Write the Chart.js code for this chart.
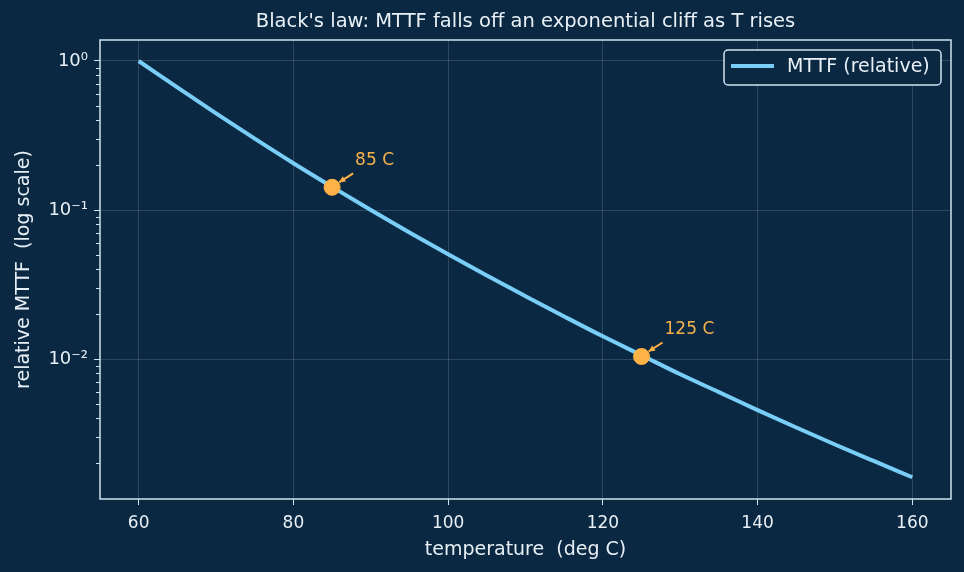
<!DOCTYPE html>
<html>
<head>
<meta charset="utf-8">
<title>Black's law</title>
<script src="https://cdn.jsdelivr.net/npm/chart.js@4.4.1/dist/chart.umd.min.js"></script>
<style>
  html, body { margin: 0; padding: 0; background: #0b2842; }
  #wrap { width: 964px; height: 572px; }
</style>
</head>
<body>
<div id="wrap"><canvas id="chart" width="964" height="572"></canvas></div>
<script>
// values
const temps = [60, 65, 70, 75, 80, 85, 90, 95, 100, 105, 110, 115, 120, 125, 130, 135, 140, 145, 150, 155, 160];
const mttf = [1.0, 0.665, 0.445, 0.301, 0.206, 0.143, 0.100, 0.0707, 0.0505, 0.0363, 0.0264, 0.0193, 0.0142, 0.0106, 0.0079, 0.0060, 0.00454, 0.00347, 0.00267, 0.00207, 0.00161];

const markTemps = [85, 125];
const markValues = [0.142, 0.0104];
const markLabels = ['85 C', '125 C'];

const xTicks = [60, 80, 100, 120, 140, 160];
const yTicks = [1, 0.1, 0.01];
const yTickLabels = ['10⁰', '10⁻¹', '10⁻²'];

const BG = '#0b2842';
const FG = '#e8f0f6';
const FRAME = '#cfe3f1';
const LINE = '#79cef8';
const ORANGE = '#ffb347';
const FONT = "'DejaVu Sans', sans-serif";

const decor = {
    id: 'decor',
    beforeDraw(chart) {
        const ctx = chart.ctx;
        ctx.save();
        ctx.fillStyle = BG;
        ctx.fillRect(0, 0, chart.width, chart.height);
        ctx.restore();
    },
    afterDraw(chart) {
        const { ctx, chartArea: a, scales } = chart;
        const x = scales.x, y = scales.y;
        ctx.save();

        // frame around the plot
        ctx.strokeStyle = FRAME;
        ctx.lineWidth = 1.5;
        ctx.strokeRect(a.left, a.top, a.right - a.left, a.bottom - a.top);

        // minor log ticks on the y axis
        ctx.lineWidth = 1;
        for (let d = -3; d <= 0; d++) {
            for (let m = 2; m <= 9; m++) {
                const v = m * Math.pow(10, d);
                if (v < y.min || v > y.max) continue;
                const py = Math.round(y.getPixelForValue(v)) + 0.5;
                ctx.beginPath();
                ctx.moveTo(a.left - 4, py);
                ctx.lineTo(a.left, py);
                ctx.stroke();
            }
        }

        // annotations with little arrows
        ctx.font = '17px ' + FONT;
        ctx.textBaseline = 'middle';
        ctx.textAlign = 'left';
        markTemps.forEach((t, i) => {
            const px = x.getPixelForValue(t);
            const py = y.getPixelForValue(markValues[i]);
            const sx = px + 21, sy = py - 14;
            const ex = px + 7, ey = py - 5;
            ctx.strokeStyle = ORANGE;
            ctx.fillStyle = ORANGE;
            ctx.lineWidth = 2;
            ctx.beginPath();
            ctx.moveTo(sx, sy);
            ctx.lineTo(ex, ey);
            ctx.stroke();
            const ang = Math.atan2(ey - sy, ex - sx);
            ctx.beginPath();
            ctx.moveTo(ex, ey);
            ctx.lineTo(ex - 7 * Math.cos(ang - 0.45), ey - 7 * Math.sin(ang - 0.45));
            ctx.lineTo(ex - 7 * Math.cos(ang + 0.45), ey - 7 * Math.sin(ang + 0.45));
            ctx.closePath();
            ctx.fill();
            ctx.fillStyle = '#f5b24a';
            ctx.fillText(markLabels[i], px + 23, py - 27);
        });

        // legend box, top right inside the plot
        const lw = 217, lh = 35;
        const lx = a.right - 10 - lw, ly = a.top + 10;
        ctx.fillStyle = BG;
        ctx.strokeStyle = FRAME;
        ctx.lineWidth = 1.5;
        ctx.beginPath();
        ctx.roundRect(lx, ly, lw, lh, 4);
        ctx.fill();
        ctx.stroke();
        ctx.strokeStyle = LINE;
        ctx.lineWidth = 4;
        ctx.beginPath();
        ctx.moveTo(lx + 7, ly + 16);
        ctx.lineTo(lx + 50, ly + 16);
        ctx.stroke();
        ctx.fillStyle = FG;
        ctx.font = '19px ' + FONT;
        ctx.fillText(chart.data.datasets[0].label, lx + 63, ly + 17);

        ctx.restore();
    }
};

new Chart(document.getElementById('chart'), {
    type: 'line',
    data: {
        datasets: [{
            label: 'MTTF (relative)',
            data: temps.map((t, i) => ({ x: t, y: mttf[i] })),
            borderColor: LINE,
            borderWidth: 4,
            pointRadius: 0,
            cubicInterpolationMode: 'monotone',
            order: 2
        }, {
            type: 'scatter',
            label: 'markers',
            data: markTemps.map((t, i) => ({ x: t, y: markValues[i] })),
            backgroundColor: ORANGE,
            borderColor: ORANGE,
            pointRadius: 8,
            order: 1
        }]
    },
    options: {
        responsive: false,
        animation: false,
        layout: { padding: { top: 0, right: 13, bottom: 0, left: 0 } },
        plugins: {
            legend: { display: false },
            tooltip: { enabled: false },
            title: {
                display: true,
                fullSize: false,
                text: "Black's law: MTTF falls off an exponential cliff as T rises",
                color: FG,
                font: { family: FONT, size: 19.5, weight: 'normal' },
                padding: { top: 10.5, bottom: 6.1 }
            }
        },
        scales: {
            x: {
                type: 'linear',
                min: 55,
                max: 165,
                afterBuildTicks: s => { s.ticks = xTicks.map(v => ({ value: v })); },
                afterFit: s => { s.height = 73; },
                grid: { color: 'rgba(255,255,255,0.14)', lineWidth: 1, tickColor: FRAME, tickLength: 6 },
                border: { display: false },
                ticks: { color: FG, font: { family: FONT, size: 17 }, padding: 8, maxRotation: 0 },
                title: {
                    display: true,
                    text: 'temperature  (deg C)',
                    color: FG,
                    font: { family: FONT, size: 19 },
                    padding: { top: 0, bottom: 11 }
                }
            },
            y: {
                type: 'logarithmic',
                min: 0.00115,
                max: 1.383,
                afterBuildTicks: s => { s.ticks = yTicks.map(v => ({ value: v })); },
                afterFit: s => { s.width = 100; },
                grid: { color: 'rgba(255,255,255,0.14)', lineWidth: 1, tickColor: FRAME, tickLength: 6 },
                border: { display: false },
                ticks: {
                    color: FG,
                    font: { family: FONT, size: 18 },
                    padding: 6,
                    callback: (v, i) => yTickLabels[i]
                },
                title: {
                    display: true,
                    text: 'relative MTTF  (log scale)',
                    color: FG,
                    font: { family: FONT, size: 19 },
                    padding: { top: 12.6, bottom: 0 }
                }
            }
        }
    },
    plugins: [decor]
});
</script>
</body>
</html>
